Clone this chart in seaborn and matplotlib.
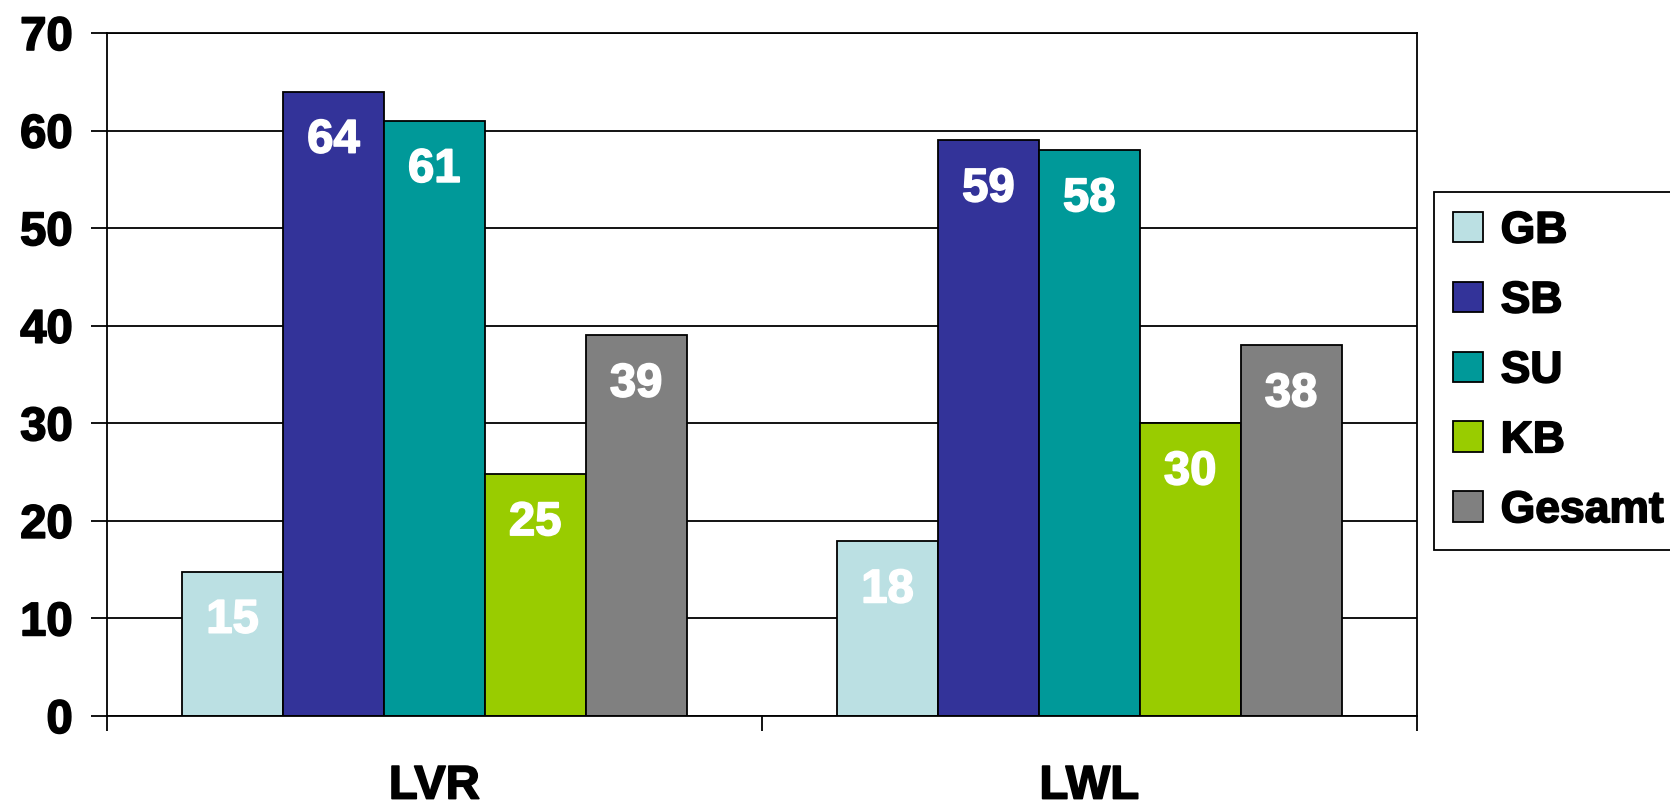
import matplotlib
matplotlib.use('Agg')
import matplotlib.pyplot as plt
import matplotlib.patheffects as pe
import seaborn as sns
import pandas as pd
from matplotlib.patches import Patch

# data
groups = ['LVR', 'LWL']
categories = ['GB', 'SB', 'SU', 'KB', 'Gesamt']
lvr_values = [14.8, 64.0, 61.0, 24.8, 39.0]
lwl_values = [17.9, 59.0, 58.0, 30.0, 38.0]
colors = ['#BBE0E3', '#333399', '#009999', '#99CC00', '#808080']
y_ticks = [0, 10, 20, 30, 40, 50, 60, 70]

df = pd.DataFrame({
    'Gruppe': [g for g in groups for _ in categories],
    'Kategorie': categories * len(groups),
    'Wert': lvr_values + lwl_values,
})

sns.set_style('white')
plt.rcParams['font.family'] = ['Liberation Sans', 'DejaVu Sans']
plt.rcParams['font.weight'] = 'bold'
plt.rcParams.update({'text.color': 'black', 'xtick.color': 'black',
                     'ytick.color': 'black', 'axes.labelcolor': 'black'})

# slight stroke to get the heavy look of the original fonts
heavy_black = [pe.withStroke(linewidth=1.2, foreground='black')]
heavy_white = [pe.withStroke(linewidth=1.2, foreground='white')]

fig = plt.figure(figsize=(16.7, 8.08), dpi=100)
ax = fig.add_axes([0.064, 0.1139, 0.7844, 0.8453])
ax.set_axisbelow(True)
ax.yaxis.grid(True, color='black', linewidth=1.3)

sns.barplot(data=df, x='Gruppe', y='Wert', hue='Kategorie',
            order=groups, hue_order=categories, palette=colors,
            width=0.77, saturation=1, edgecolor='black', linewidth=1.3, ax=ax)

# value labels inside the top of each bar
for container in ax.containers:
    for patch in container:
        h = patch.get_height()
        ax.annotate(f'{h:.0f}', (patch.get_x() + patch.get_width() / 2, h),
                    xytext=(0, -44), textcoords='offset points',
                    ha='center', va='baseline', color='white',
                    fontsize=34, fontweight='bold', path_effects=heavy_white)

# axes styling
ax.set_xlim(-0.5, len(groups) - 0.5)
ax.set_ylim(y_ticks[0], y_ticks[-1])
ax.set_yticks(y_ticks)
ax.set_xticks(range(len(groups)))
ax.set_xticklabels(groups)
ax.set_xticks([i - 0.5 for i in range(len(groups) + 1)], minor=True)
ax.set_xlabel('')
ax.set_ylabel('')
for side in ['left', 'right', 'top', 'bottom']:
    ax.spines[side].set_visible(True)
    ax.spines[side].set_color('black')
    ax.spines[side].set_linewidth(1.3)

ax.tick_params(axis='y', left=True, length=11.5, width=1.3, color='black',
               pad=13, labelsize=34)
ax.tick_params(axis='x', which='major', bottom=True, length=0, pad=35, labelsize=34)
ax.tick_params(axis='x', which='minor', bottom=True, length=11, width=1.3, color='black')
for lbl in ax.get_xticklabels() + ax.get_yticklabels():
    lbl.set_fontweight('bold')
    lbl.set_color('black')
    lbl.set_path_effects(heavy_black)

# legend
if ax.get_legend() is not None:
    ax.get_legend().remove()
handles = [Patch(facecolor=c, edgecolor='black', linewidth=1.3) for c in colors]
leg = fig.legend(handles, categories, loc='upper left',
                 bbox_to_anchor=(0.8587, 0.7624), borderaxespad=0,
                 frameon=True, fancybox=False, framealpha=1, edgecolor='black',
                 prop={'weight': 'bold', 'size': 32},
                 handlelength=0.68, handleheight=0.68, handletextpad=0.4,
                 labelspacing=0.65, borderpad=0.42)
leg.get_frame().set_linewidth(1.3)
for t in leg.get_texts():
    t.set_color('black')
    t.set_path_effects(heavy_black)

fig.savefig('out.png', dpi=100)
